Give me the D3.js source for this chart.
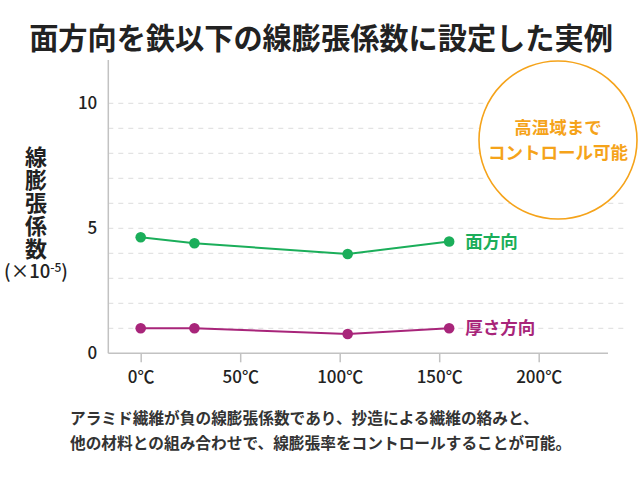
<!DOCTYPE html>
<html><head><meta charset="utf-8">
<script src="https://cdn.jsdelivr.net/npm/d3@7"></script>
<style>
html,body{margin:0;padding:0;background:#fff;}
text{font-family:"Noto Sans CJK JP","Noto Sans",sans-serif;}
</style></head>
<body>
<svg id="c" width="640" height="480"></svg>
<script>
const title = "面方向を鉄以下の線膨張係数に設定した実例";
const yLabel = "線膨張係数";
const xTicks = [0, 50, 100, 150, 200];
const yTicks = [0, 5, 10];
const gridValues = [1,2,3,4,5,6,7,8,9,10];
const temps = [0, 27, 104, 155];
const inPlane = [4.64, 4.40, 3.97, 4.47];
const thickness = [1.00, 1.00, 0.77, 1.00];
const seriesNames = ["面方向", "厚さ方向"];
const noteLines = ["アラミド繊維が負の線膨張係数であり、抄造による繊維の絡みと、",
                   "他の材料との組み合わせで、線膨張率をコントロールすることが可能。"];
const badgeLines = ["高温域まで", "コントロール可能"];

const svg = d3.select("#c");
const x = d3.scaleLinear().domain([0, 200]).range([140.7, 538.7]);
const y = d3.scaleLinear().domain([0, 10]).range([353.3, 103.3]);
const axLeft = 108.3, axRight = 608, axTop = 60;
const green = "#1bae5a", magenta = "#a8257a", orange = "#f5a31a";

// title
svg.append("text").attr("x", 321).attr("y", 49).attr("text-anchor", "middle")
  .attr("font-size", 29.2).attr("font-weight", 700).attr("fill", "#222").text(title);

// grid
svg.append("g").selectAll("line").data(gridValues).join("line")
  .attr("x1", axLeft).attr("x2", 625).attr("y1", d => y(d)).attr("y2", d => y(d))
  .attr("stroke", "#e3e3e3").attr("stroke-width", 1.2).attr("stroke-dasharray", "5,5");

// axes lines
svg.append("line").attr("x1", axLeft).attr("x2", axLeft).attr("y1", axTop).attr("y2", y(0))
  .attr("stroke", "#c2c2c2").attr("stroke-width", 1.5);
svg.append("line").attr("x1", axLeft).attr("x2", axRight).attr("y1", y(0)).attr("y2", y(0))
  .attr("stroke", "#c2c2c2").attr("stroke-width", 1.5);

// x axis
const xAxis = d3.axisBottom(x).tickValues(xTicks).tickSize(9).tickPadding(9).tickFormat(d => d + "℃");
const gx = svg.append("g").attr("transform", `translate(0,${y(0)})`).call(xAxis);
gx.select(".domain").remove();
gx.selectAll(".tick line").attr("stroke", "#c2c2c2").attr("stroke-width", 1.5);
gx.selectAll(".tick text").attr("font-size", 17).attr("font-weight", 500).attr("fill", "#222")
  .attr("font-family", "'Noto Sans CJK JP',sans-serif");

// y axis
const yAxis = d3.axisLeft(y).tickValues(yTicks).tickSize(0).tickPadding(11);
const gy = svg.append("g").attr("transform", `translate(${axLeft},0)`).call(yAxis);
gy.select(".domain").remove();
gy.selectAll(".tick text").attr("font-size", 17).attr("font-weight", 500).attr("fill", "#222")
  .attr("font-family", "'Noto Sans CJK JP',sans-serif");

// y label (vertical)
svg.append("text").attr("x", 36).attr("y", 146)
  .style("writing-mode", "vertical-rl").style("letter-spacing", "1px")
  .attr("font-size", 22).attr("font-weight", 700).attr("fill", "#222").text(yLabel);
const unit = svg.append("text").attr("x", 36).attr("y", 278).attr("text-anchor", "middle")
  .attr("font-size", 18.5).attr("font-weight", 500).attr("fill", "#222");
unit.append("tspan").text("(×10");
unit.append("tspan").attr("font-size", 12).attr("dy", -6).text("-5");
unit.append("tspan").attr("dy", 6).text(")");

// badge circle
svg.append("circle").attr("cx", 558).attr("cy", 140).attr("r", 79)
  .attr("fill", "#fff").attr("stroke", orange).attr("stroke-width", 1.6);
badgeLines.forEach((t, i) => {
  svg.append("text").attr("x", 558).attr("y", 134 + i * 25).attr("text-anchor", "middle")
    .attr("font-size", 17.5).attr("font-weight", 700).attr("fill", orange).text(t);
});

// series
const series = [
  {name: seriesNames[0], vals: inPlane, color: green},
  {name: seriesNames[1], vals: thickness, color: magenta}
];
const line = d3.line().x(d => x(d[0])).y(d => y(d[1]));
series.forEach(s => {
  const pts = temps.map((t, i) => [t, s.vals[i]]);
  svg.append("path").attr("d", line(pts)).attr("fill", "none")
    .attr("stroke", s.color).attr("stroke-width", 2);
  svg.append("g").selectAll("circle").data(pts).join("circle")
    .attr("cx", d => x(d[0])).attr("cy", d => y(d[1])).attr("r", 5.3).attr("fill", s.color);
  const last = pts[pts.length - 1];
  svg.append("text").attr("x", x(last[0]) + 16).attr("y", y(last[1]) + 6)
    .attr("font-size", 17.5).attr("font-weight", 700).attr("fill", s.color).text(s.name);
});

// note
noteLines.forEach((t, i) => {
  svg.append("text").attr("x", 70).attr("y", 424 + i * 25)
    .attr("font-size", 15.7).attr("font-weight", 700).attr("fill", "#333").text(t);
});
</script>
</body></html>
